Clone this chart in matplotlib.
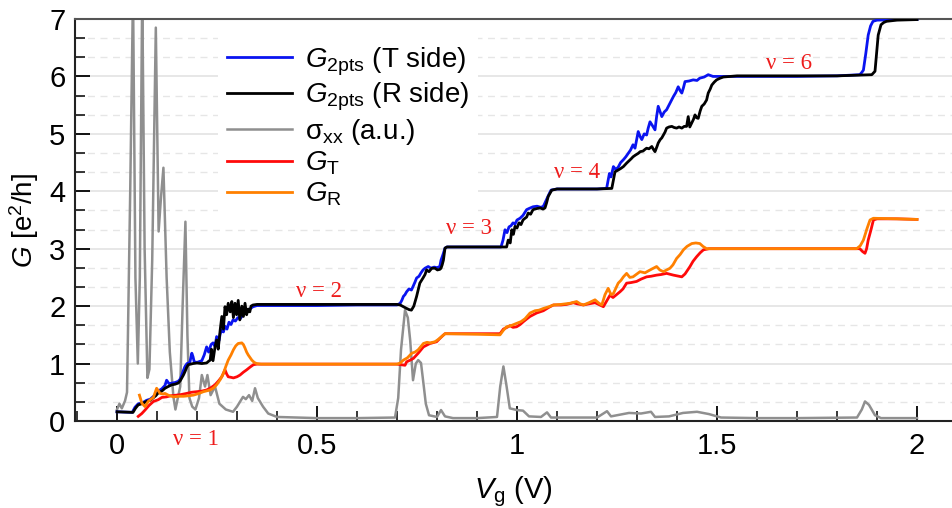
import numpy as np
import matplotlib
matplotlib.use("Agg")
import matplotlib.pyplot as plt
from matplotlib.ticker import MultipleLocator

plt.rcParams['font.family'] = ['Liberation Sans', 'DejaVu Sans']
plt.rcParams['mathtext.fontset'] = 'custom'
plt.rcParams['mathtext.rm'] = 'Liberation Sans'
plt.rcParams['mathtext.it'] = 'Liberation Sans:italic'

# sigma_xx (a.u.), (Vg, value)
sigma_xx = [(0.0, 0.2), (0.006, 0.3), (0.012, 0.22), (0.02, 0.35), (0.025, 0.5), (0.033, 4.0),
            (0.04, 7.5), (0.046, 2.5), (0.052, 1.0), (0.057, 2.5), (0.063, 7.5), (0.069, 3.0),
            (0.076, 0.75), (0.081, 0.9), (0.088, 2.8), (0.097, 6.85), (0.104, 3.3), (0.11, 3.9),
            (0.116, 4.41), (0.124, 2.5), (0.132, 1.2), (0.141, 0.42), (0.146, 0.2), (0.152, 0.4),
            (0.158, 0.6), (0.164, 2.0), (0.171, 3.47), (0.176, 1.5), (0.181, 0.4), (0.188, 0.25),
            (0.196, 0.2), (0.205, 0.4), (0.212, 0.8), (0.22, 0.6), (0.226, 0.8), (0.234, 0.45),
            (0.245, 0.6), (0.256, 0.3), (0.272, 0.2), (0.29, 0.16), (0.3, 0.25), (0.315, 0.42),
            (0.322, 0.38), (0.33, 0.45), (0.338, 0.35), (0.345, 0.57), (0.352, 0.4), (0.365, 0.25),
            (0.378, 0.13), (0.4, 0.07), (0.5, 0.05), (0.6, 0.05), (0.695, 0.06), (0.703, 0.4),
            (0.71, 1.24), (0.72, 1.93), (0.727, 1.8), (0.733, 1.4), (0.74, 0.71), (0.747, 1.0),
            (0.753, 1.06), (0.76, 1.01), (0.767, 0.6), (0.772, 0.3), (0.78, 0.1), (0.8, 0.07),
            (0.81, 0.19), (0.82, 0.08), (0.84, 0.05), (0.9, 0.05), (0.95, 0.07), (0.958, 0.6),
            (0.966, 0.95), (0.974, 0.6), (0.982, 0.22), (1.0, 0.19), (1.015, 0.18), (1.03, 0.08),
            (1.06, 0.07), (1.075, 0.15), (1.085, 0.06), (1.2, 0.06), (1.225, 0.17), (1.235, 0.08),
            (1.25, 0.1), (1.28, 0.14), (1.31, 0.13), (1.335, 0.16), (1.345, 0.07), (1.38, 0.08),
            (1.415, 0.14), (1.45, 0.16), (1.48, 0.12), (1.51, 0.06), (1.6, 0.05), (1.7, 0.05),
            (1.85, 0.06), (1.862, 0.2), (1.87, 0.34), (1.88, 0.28), (1.895, 0.1), (1.91, 0.05),
            (2.0, 0.05)]

# G_2pts, T side (blue)
g2pts_T = [(0.0, 0.16), (0.038, 0.15), (0.045, 0.24), (0.053, 0.3), (0.062, 0.31), (0.074, 0.36),
           (0.083, 0.38), (0.09, 0.42), (0.097, 0.47), (0.103, 0.52), (0.112, 0.56), (0.12, 0.62),
           (0.124, 0.71), (0.13, 0.65), (0.137, 0.66), (0.145, 0.67), (0.153, 0.69), (0.158, 0.73),
           (0.162, 0.8), (0.166, 0.88), (0.17, 0.95), (0.175, 1.0), (0.182, 1.02), (0.187, 1.18),
           (0.19, 1.12), (0.193, 1.03), (0.2, 1.02), (0.212, 1.05), (0.218, 1.15), (0.224, 1.29),
           (0.229, 1.2), (0.235, 1.33), (0.24, 1.36), (0.245, 1.3), (0.249, 1.47), (0.255, 1.4),
           (0.258, 1.52), (0.262, 1.59), (0.266, 1.55), (0.27, 1.65), (0.275, 1.6), (0.28, 1.72),
           (0.285, 1.68), (0.29, 1.76), (0.296, 1.74), (0.302, 1.8), (0.308, 1.78), (0.316, 1.86),
           (0.324, 1.9), (0.332, 1.95), (0.34, 1.99), (0.35, 2.01), (0.4, 2.01), (0.5, 2.01),
           (0.6, 2.02), (0.7, 2.02), (0.708, 2.05), (0.712, 2.1), (0.716, 2.17), (0.72, 2.2),
           (0.724, 2.25), (0.73, 2.3), (0.736, 2.28), (0.74, 2.34), (0.745, 2.42), (0.749, 2.49),
           (0.755, 2.52), (0.76, 2.58), (0.765, 2.63), (0.77, 2.66), (0.778, 2.69), (0.785, 2.66),
           (0.793, 2.68), (0.8, 2.67), (0.807, 2.69), (0.81, 2.8), (0.815, 2.9), (0.82, 3.01),
           (0.825, 3.03), (0.9, 3.03), (0.96, 3.03), (0.965, 3.15), (0.97, 3.33), (0.975, 3.28),
           (0.98, 3.38), (0.985, 3.4), (0.99, 3.45), (0.995, 3.43), (1.0, 3.5), (1.0075, 3.53),
           (1.015, 3.58), (1.024, 3.68), (1.03, 3.7), (1.04, 3.73), (1.05, 3.74), (1.06, 3.72),
           (1.066, 3.74), (1.074, 3.86), (1.08, 3.95), (1.085, 4.02), (1.1, 4.04), (1.15, 4.04),
           (1.2, 4.04), (1.224, 4.05), (1.228, 4.2), (1.231, 4.31), (1.235, 4.25), (1.241, 4.43),
           (1.247, 4.38), (1.253, 4.42), (1.259, 4.5), (1.266, 4.55), (1.272, 4.6), (1.278, 4.66),
           (1.284, 4.72), (1.29, 4.81), (1.295, 4.75), (1.299, 4.9), (1.303, 5.04), (1.308, 4.95),
           (1.312, 4.9), (1.318, 5.0), (1.324, 4.98), (1.328, 5.1), (1.3325, 5.21), (1.338, 5.15),
           (1.345, 5.07), (1.349, 5.3), (1.353, 5.48), (1.358, 5.38), (1.362, 5.3), (1.368, 5.38),
           (1.374, 5.42), (1.38, 5.5), (1.386, 5.58), (1.391, 5.65), (1.397, 5.72), (1.403, 5.82),
           (1.408, 5.75), (1.412, 5.71), (1.416, 5.8), (1.42, 5.91), (1.43, 5.92), (1.4405, 5.94),
           (1.45, 5.93), (1.457, 5.97), (1.468, 5.99), (1.478, 6.03), (1.49, 6.0), (1.5, 6.0),
           (1.55, 6.0), (1.6, 6.0), (1.7, 6.0), (1.8, 6.01), (1.857, 6.03), (1.862, 6.07),
           (1.866, 6.11), (1.872, 6.4), (1.878, 6.72), (1.884, 6.88), (1.89, 6.96), (1.9, 6.98),
           (1.95, 6.99), (2.0, 6.99)]

# G_2pts, R side (black)
g2pts_R = [(0.0, 0.16), (0.04, 0.15), (0.046, 0.22), (0.053, 0.28), (0.062, 0.3), (0.074, 0.34),
           (0.083, 0.36), (0.09, 0.4), (0.097, 0.44), (0.103, 0.49), (0.112, 0.52), (0.12, 0.57),
           (0.128, 0.6), (0.137, 0.63), (0.145, 0.64), (0.153, 0.66), (0.158, 0.7), (0.162, 0.75),
           (0.166, 0.8), (0.17, 0.86), (0.174, 0.93), (0.178, 0.98), (0.19, 1.0), (0.2, 1.01),
           (0.212, 1.0), (0.224, 1.01), (0.229, 1.04), (0.233, 1.06), (0.236, 1.25), (0.24, 1.05),
           (0.245, 1.29), (0.249, 1.41), (0.253, 1.25), (0.258, 1.59), (0.262, 1.82), (0.266, 1.6),
           (0.27, 1.99), (0.274, 1.85), (0.278, 2.05), (0.283, 1.9), (0.287, 2.08), (0.291, 1.8),
           (0.295, 2.05), (0.299, 1.85), (0.303, 2.1), (0.307, 1.76), (0.312, 2.0), (0.316, 1.82),
           (0.32, 2.05), (0.324, 1.85), (0.328, 1.95), (0.332, 1.9), (0.335, 2.0), (0.34, 2.02),
           (0.35, 2.03), (0.4, 2.03), (0.5, 2.03), (0.6, 2.03), (0.7, 2.03), (0.708, 2.02),
           (0.716, 1.99), (0.724, 1.96), (0.73, 1.94), (0.736, 1.93), (0.742, 2.0), (0.749, 2.17),
           (0.757, 2.4), (0.765, 2.49), (0.77, 2.55), (0.774, 2.63), (0.78, 2.6), (0.787, 2.66),
           (0.795, 2.66), (0.801, 2.63), (0.807, 2.64), (0.81, 2.66), (0.813, 2.72), (0.816, 2.8),
           (0.82, 3.01), (0.825, 3.03), (0.9, 3.03), (0.974, 3.03), (0.978, 3.15), (0.983, 3.1),
           (0.987, 3.33), (0.991, 3.25), (0.995, 3.39), (1.0, 3.36), (1.005, 3.45), (1.01, 3.42),
           (1.015, 3.5), (1.02, 3.53), (1.024, 3.55), (1.028, 3.62), (1.034, 3.6), (1.04, 3.68),
           (1.05, 3.7), (1.058, 3.71), (1.065, 3.69), (1.07, 3.71), (1.074, 3.8), (1.078, 3.91),
           (1.087, 4.02), (1.1, 4.04), (1.15, 4.04), (1.2, 4.04), (1.237, 4.05), (1.241, 4.2),
           (1.245, 4.34), (1.253, 4.37), (1.26, 4.4), (1.266, 4.43), (1.274, 4.49), (1.28, 4.53),
           (1.286, 4.57), (1.29, 4.6), (1.296, 4.63), (1.303, 4.66), (1.308, 4.69), (1.315, 4.7),
           (1.32, 4.73), (1.324, 4.75), (1.33, 4.74), (1.337, 4.78), (1.341, 4.73), (1.345, 4.69),
           (1.35, 4.78), (1.353, 4.84), (1.358, 4.9), (1.362, 4.93), (1.366, 4.98), (1.37, 5.03),
           (1.374, 5.1), (1.38, 5.12), (1.387, 5.13), (1.393, 5.11), (1.399, 5.1), (1.405, 5.12),
           (1.412, 5.1), (1.418, 5.13), (1.424, 5.13), (1.428, 5.3), (1.432, 5.12), (1.437, 5.19),
           (1.441, 5.25), (1.445, 5.33), (1.449, 5.28), (1.453, 5.27), (1.458, 5.4), (1.462, 5.48),
           (1.468, 5.52), (1.474, 5.59), (1.478, 5.71), (1.483, 5.78), (1.487, 5.85), (1.493, 5.9),
           (1.499, 5.94), (1.508, 5.97), (1.516, 5.99), (1.55, 6.01), (1.6, 6.01), (1.7, 6.01),
           (1.8, 6.01), (1.887, 6.03), (1.891, 6.06), (1.895, 6.09), (1.899, 6.4), (1.903, 6.72),
           (1.91, 6.9), (1.917, 6.94), (1.924, 6.96), (1.95, 6.98), (2.0, 6.99)]

# G_T (red)
g_T = [(0.053, 0.08), (0.062, 0.13), (0.07, 0.19), (0.08, 0.27), (0.091, 0.34), (0.103, 0.37),
       (0.112, 0.41), (0.124, 0.42), (0.135, 0.44), (0.149, 0.45), (0.16, 0.46), (0.174, 0.48),
       (0.186, 0.5), (0.199, 0.51), (0.212, 0.52), (0.224, 0.54), (0.235, 0.58), (0.245, 0.63),
       (0.254, 0.7), (0.262, 0.77), (0.27, 0.89), (0.274, 0.82), (0.278, 0.77), (0.285, 0.76),
       (0.291, 0.75), (0.3, 0.77), (0.3075, 0.8), (0.316, 0.85), (0.324, 0.89), (0.333, 0.94),
       (0.341, 0.98), (0.35, 0.99), (0.4, 0.99), (0.5, 0.99), (0.6, 0.99), (0.7, 0.99),
       (0.71, 0.98), (0.72, 0.97), (0.724, 1.03), (0.733, 1.06), (0.741, 1.09), (0.753, 1.18),
       (0.766, 1.29), (0.7825, 1.35), (0.799, 1.38), (0.8075, 1.44), (0.815, 1.49), (0.82, 1.52),
       (0.9, 1.52), (0.9575, 1.52), (0.966, 1.6), (0.975, 1.63), (0.9825, 1.66), (0.99, 1.63),
       (0.999, 1.64), (1.008, 1.68), (1.016, 1.73), (1.025, 1.78), (1.0325, 1.82), (1.049, 1.88),
       (1.066, 1.92), (1.08, 1.98), (1.091, 2.02), (1.11, 2.02), (1.124, 2.03), (1.141, 2.06),
       (1.15, 2.04), (1.166, 2.02), (1.18, 2.04), (1.195, 2.06), (1.216, 1.99), (1.225, 2.1),
       (1.2325, 2.19), (1.24, 2.15), (1.2575, 2.25), (1.265, 2.3), (1.274, 2.4), (1.285, 2.41),
       (1.299, 2.43), (1.31, 2.47), (1.324, 2.51), (1.335, 2.52), (1.349, 2.54), (1.36, 2.55),
       (1.374, 2.57), (1.391, 2.54), (1.405, 2.52), (1.412, 2.51), (1.42, 2.56), (1.4325, 2.69),
       (1.44, 2.78), (1.449, 2.86), (1.458, 2.93), (1.466, 2.98), (1.48, 3.0), (1.55, 3.0),
       (1.65, 3.0), (1.75, 3.0), (1.857, 3.0), (1.864, 2.95), (1.87, 2.92), (1.874, 3.0),
       (1.878, 3.15), (1.885, 3.33), (1.891, 3.5), (1.9, 3.52), (1.95, 3.52), (2.0, 3.51)]

# G_R (orange)
g_R = [(0.056, 0.45), (0.06, 0.36), (0.062, 0.31), (0.07, 0.25), (0.078, 0.34), (0.085, 0.38),
       (0.091, 0.41), (0.099, 0.57), (0.104, 0.52), (0.1075, 0.48), (0.115, 0.47), (0.12, 0.48),
       (0.128, 0.45), (0.141, 0.42), (0.155, 0.43), (0.166, 0.43), (0.18, 0.44), (0.191, 0.45),
       (0.205, 0.48), (0.216, 0.51), (0.233, 0.54), (0.242, 0.58), (0.249, 0.63), (0.258, 0.72),
       (0.266, 0.83), (0.272, 0.95), (0.278, 1.06), (0.285, 1.15), (0.291, 1.24), (0.297, 1.31),
       (0.303, 1.35), (0.312, 1.36), (0.316, 1.33), (0.32, 1.27), (0.324, 1.2), (0.328, 1.15),
       (0.333, 1.1), (0.337, 1.06), (0.343, 1.02), (0.349, 1.0), (0.36, 0.99), (0.4, 0.99),
       (0.5, 0.99), (0.6, 0.99), (0.7, 0.99), (0.708, 1.01), (0.716, 1.06), (0.726, 1.1),
       (0.737, 1.18), (0.745, 1.2), (0.753, 1.24), (0.766, 1.35), (0.775, 1.37), (0.783, 1.36),
       (0.795, 1.38), (0.803, 1.42), (0.81, 1.46), (0.82, 1.52), (0.9, 1.51), (0.9575, 1.5),
       (0.966, 1.58), (0.974, 1.64), (0.985, 1.66), (0.999, 1.7), (1.01, 1.73), (1.02, 1.78),
       (1.0325, 1.88), (1.045, 1.92), (1.055, 1.93), (1.066, 1.96), (1.08, 1.99), (1.091, 2.02),
       (1.11, 2.03), (1.1325, 2.05), (1.149, 2.08), (1.158, 2.04), (1.166, 2.02), (1.18, 2.06),
       (1.195, 2.11), (1.205, 2.05), (1.212, 2.02), (1.22, 2.2), (1.228, 2.31), (1.235, 2.2),
       (1.241, 2.22), (1.253, 2.4), (1.26, 2.45), (1.266, 2.51), (1.274, 2.57), (1.282, 2.5),
       (1.29, 2.51), (1.3075, 2.6), (1.32, 2.58), (1.33, 2.62), (1.349, 2.69), (1.357, 2.63),
       (1.366, 2.6), (1.3825, 2.66), (1.39, 2.72), (1.399, 2.83), (1.408, 2.9), (1.416, 2.98),
       (1.425, 3.04), (1.437, 3.09), (1.447, 3.1), (1.457, 3.09), (1.465, 3.04), (1.474, 3.0),
       (1.49, 3.0), (1.55, 3.0), (1.65, 3.0), (1.75, 3.0), (1.849, 3.0), (1.858, 3.05),
       (1.866, 3.15), (1.875, 3.35), (1.8825, 3.5), (1.891, 3.53), (1.95, 3.52), (2.0, 3.51)]

# filling factor labels: (text, Vg, G)
nu_labels = [("ν = 1", 0.197, -0.33), ("ν = 2", 0.505, 2.25), ("ν = 3", 0.88, 3.36),
             ("ν = 4", 1.15, 4.32), ("ν = 6", 1.68, 6.23)]

fig = plt.figure(figsize=(9.52, 5.08), dpi=100)
ax = fig.add_axes([0.0788, 0.1713, 0.9212, 0.7913])

def xy(pts):
    a = np.array(pts)
    return a[:, 0], a[:, 1]

ax.plot(*xy(sigma_xx), color='#8f8f8f', lw=1.8, label='σ$_{\\rm xx}$ (a.u.)', zorder=2)
ax.plot(*xy(g2pts_T), color='#0a14f0', lw=2.0, label='$G_{\\rm 2pts}$ (T side)', zorder=3)
ax.plot(*xy(g2pts_R), color='black', lw=2.0, label='$G_{\\rm 2pts}$ (R side)', zorder=4)
ax.plot(*xy(g_T), color='#ff0a0a', lw=2.0, label='$G_{\\rm T}$', zorder=5)
ax.plot(*xy(g_R), color='#ff8000', lw=2.0, label='$G_{\\rm R}$', zorder=6)

for txt, xv, yv in nu_labels:
    ax.text(xv, yv, txt, color='#ee1c1c', fontsize=16.5, family='Liberation Serif',
            ha='center', va='center', clip_on=False, zorder=12)

ax.set_xlim(-0.105, 2.0875)
ax.set_ylim(0, 7)
ax.xaxis.set_major_locator(MultipleLocator(0.5))
ax.xaxis.set_minor_locator(MultipleLocator(0.1))
ax.yaxis.set_major_locator(MultipleLocator(1))
ax.yaxis.set_minor_locator(MultipleLocator(1 / 3))
ax.xaxis.set_major_formatter(matplotlib.ticker.FuncFormatter(lambda v, p: f"{v:g}"))

ax.tick_params(which='both', direction='in', labelsize=21, top=False, right=False)
ax.tick_params(which='major', length=11, width=1.3)
ax.tick_params(which='minor', length=7, width=1.1)
ax.tick_params(axis='x', pad=8)
ax.tick_params(axis='y', pad=7)

ax.grid(True, which='major', axis='y', color='#e3e3e3', lw=1.2)
ax.grid(True, which='minor', axis='y', color='#e6e6e6', lw=1.0, ls=(0, (5, 4)))
ax.set_axisbelow(True)

for s in ['left', 'bottom']:
    ax.spines[s].set_linewidth(1.5)
    ax.spines[s].set_color('#222222')
ax.spines['top'].set_linewidth(1.5)
ax.spines['top'].set_color('#555555')
ax.spines['right'].set_visible(False)

ax.set_xlabel('$V_{\\rm g}$ (V)', fontsize=21, labelpad=10)
ax.set_ylabel('$G$ [e$^2$/h]', fontsize=20, labelpad=6)

handles, labels = ax.get_legend_handles_labels()
order = [1, 2, 0, 3, 4]
leg = ax.legend([handles[i] for i in order], [labels[i] for i in order],
                loc='upper left', bbox_to_anchor=(0.1475, 0.99), fontsize=20,
                frameon=True, framealpha=1, edgecolor='none', facecolor='white',
                handlelength=2.35, handletextpad=0.47, labelspacing=0.12,
                borderpad=0.3, fancybox=False)
leg.set_zorder(10)

fig.savefig('out.png', dpi=100)
